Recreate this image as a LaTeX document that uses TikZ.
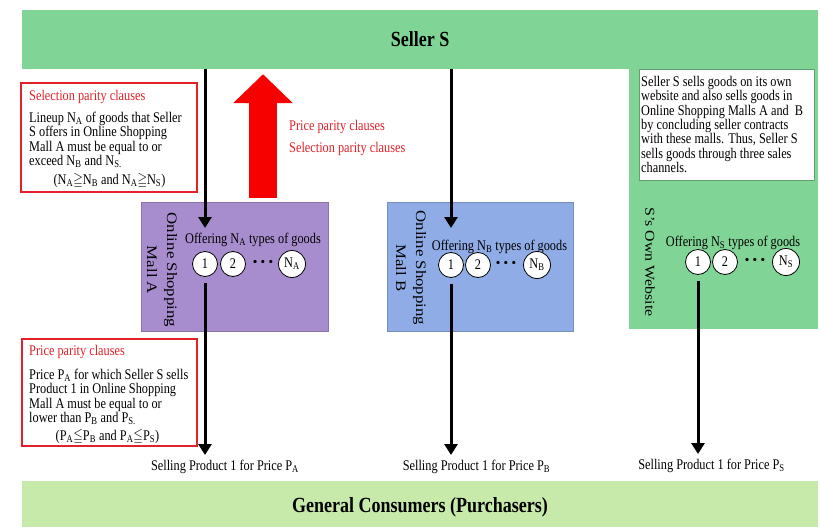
\documentclass[tikz,border=0pt]{standalone}
\usepackage{fontspec}
\setmainfont{Liberation Serif}
\usepackage{amssymb}
\usetikzlibrary{arrows.meta}

\definecolor{sellergreen}{RGB}{128,213,150}
\definecolor{buyergreen}{RGB}{199,233,170}
\definecolor{mallviolet}{RGB}{168,141,206}
\definecolor{mallsky}{RGB}{143,172,230}
\definecolor{clausered}{RGB}{228,32,40}
\definecolor{flagred}{RGB}{246,0,0}

% lettering is set a little taller than it is wide
\newcommand{\tall}[1]{\scalebox{1}[1.2]{#1}}
% rotated lettering: stretched along the line instead
\newcommand{\lng}[1]{\scalebox{1.17}[1]{#1}}
\newcommand{\ix}[1]{\textsubscript{#1}}
\newcommand{\bodysize}{\fontsize{12.3}{14.4}\selectfont}
\newcommand{\headsize}{\fontsize{18}{22}\selectfont}
% the "and so on" dots between the goods
\newcommand{\etcdots}{\scalebox{1.6}{·\kern0.8pt·\kern0.8pt·}}

\tikzset{
  panel/.style={rectangle, inner sep=0pt, fill=#1},
  mall/.style={rectangle, inner sep=0pt, minimum height=129pt, fill=#1, draw=#1!82!black, line width=0.6pt},
  txt/.style={inner sep=0pt, font=\bodysize},
  good/.style={circle, draw=black, line width=0.8pt, fill=white, minimum size=25pt, inner sep=0.5pt, font=\bodysize},
  dots/.style={inner sep=0pt, font=\bodysize\bfseries},
  clausebox/.style={rectangle, draw=clausered, line width=2pt, fill=white, inner sep=0pt},
  flow/.style={line width=3pt, -{Triangle[width=13pt,length=11pt]}},
  push/.style={draw=flagred, line width=28pt, -{Triangle[width=58pt,length=29pt]}},
  vlabel/.style={rotate=-90, inner sep=0pt, align=center},
}

\begin{document}
\begin{tikzpicture}[x=1pt,y=-1pt]
\useasboundingbox (0,0) rectangle (821,527);

% green seller band with the own-website panel hanging from it
\node[panel=sellergreen, minimum width=796pt, minimum height=59pt, font=\headsize] (seller) at (420,39.5) {\tall{\bfseries Seller S}};
\node[panel=sellergreen, minimum width=189pt, minimum height=261pt] (website) at (723.5,198.5) {};

% consumers band
\node[panel=buyergreen, minimum width=796pt, minimum height=46pt] (buyers) at (420,504) {};
\node[txt, font=\headsize] (buyerstext) at (420,507) {\tall{\bfseries General Consumers (Purchasers)}};

% explanatory note in the website panel
\node[rectangle, fill=white, draw=sellergreen!75!black, line width=0.5pt, minimum width=175pt, minimum height=111pt] (note) at (726.5,124.5) {};
\node[txt, align=left, anchor=west] (notetext) at (641,124.5) {%
  \tall{Seller S sells goods on its own}\\
  \tall{website and also sells goods in}\\
  \tall{Online Shopping Malls A and\ \ B}\\
  \tall{by concluding seller contracts}\\
  \tall{with these malls. Thus, Seller S}\\
  \tall{sells goods through three sales}\\
  \tall{channels.}};

% the two malls
\node[mall=mallviolet, minimum width=187pt] (mallA) at (234.5,266.5) {};
\node[mall=mallsky, minimum width=186pt] (mallB) at (480,266.5) {};

% channel names, read top to bottom
\node[vlabel, font=\fontsize{14.4}{20}\selectfont] (labelA) at (162,270) {\lng{Online Shopping}\\\lng{Mall A}};
\node[vlabel, font=\fontsize{14.4}{20}\selectfont] (labelB) at (411,268) {\lng{Online Shopping}\\\lng{Mall B}};
\node[vlabel, font=\fontsize{13.6}{20}\selectfont] (labelS) at (650,262) {\lng{S's Own Website}};

% assortments
\node[txt] (offerA) at (253,240) {\tall{Offering N\ix{A} types of goods}};
\node[good] (a1) at (205,264) {\tall{1}};
\node[good] (a2) at (233,264) {\tall{2}};
\node[dots] (aDots) at (263,264) {\etcdots};
\node[good, minimum size=27pt] (aN) at (292,264) {\tall{N\ix{A}}};

\node[txt] (offerB) at (499.5,247) {\tall{Offering N\ix{B} types of goods}};
\node[good] (b1) at (451,265) {\tall{1}};
\node[good] (b2) at (478,265) {\tall{2}};
\node[dots] (bDots) at (506,265) {\etcdots};
\node[good, minimum size=27pt] (bN) at (537,265) {\tall{N\ix{B}}};

\node[txt] (offerS) at (733,243) {\tall{Offering N\ix{S} types of goods}};
\node[good] (s1) at (698,262) {\tall{1}};
\node[good] (s2) at (725,262) {\tall{2}};
\node[dots] (sDots) at (755,262) {\etcdots};
\node[good, minimum size=27pt] (sN) at (786,262) {\tall{N\ix{S}}};

% sales prices
\node[txt] (sellA) at (225,467) {\tall{Selling Product 1 for Price P\ix{A}}};
\node[txt] (sellB) at (476.5,467) {\tall{Selling Product 1 for Price P\ix{B}}};
\node[txt] (sellS) at (711.5,466) {\tall{Selling Product 1 for Price P\ix{S}}};

% supply into the malls
\coordinate (aIn) at (205,228);
\coordinate (bIn) at (451,228);
\draw[flow] (seller.south -| aIn) -- (aIn);
\draw[flow] (seller.south -| bIn) -- (bIn);

% sales to consumers
\draw[flow, shorten <=6pt, shorten >=5pt] (a1) -- (a1 |- sellA.north);
\draw[flow, shorten <=6pt, shorten >=5pt] (b1) -- (b1 |- sellB.north);
\draw[flow, shorten <=6pt, shorten >=5pt] (s1) -- (s1 |- sellS.north);

% parity clauses imposed by mall A
\coordinate (parTail) at ([xshift=28.5pt,yshift=4pt]mallA.north);
\coordinate (parHead) at (parTail |- seller.south);
\draw[push, shorten >=5pt] (parTail) -- (parHead);
\node[txt, anchor=west, align=left, text=clausered, font=\fontsize{12.3}{22}\selectfont] (parityText) at (289,137.5) {\tall{Price parity clauses}\\\tall{Selection parity clauses}};

% selection parity box
\node[clausebox, minimum width=176pt, minimum height=109pt] (selBox) at (109,137.5) {};
\node[txt, anchor=west, text=clausered] (selTitle) at (29,96.5) {\tall{Selection parity clauses}};
\node[txt, anchor=west, align=left] (selBody) at (29,140) {%
  \tall{Lineup N\ix{A} of goods that Seller}\\
  \tall{S offers in Online Shopping}\\
  \tall{Mall A must be equal to or}\\
  \tall{exceed N\ix{B} and N\ix{S.}}};
\node[txt] (selRule) at (109.5,181) {\tall{(N\ix{A}$\geqq$N\ix{B} and N\ix{A}$\geqq$N\ix{S})}};

% price parity box
\node[clausebox, minimum width=175pt, minimum height=107pt] (priceBox) at (109.5,392.5) {};
\node[txt, anchor=west, text=clausered] (priceTitle) at (29,352) {\tall{Price parity clauses}};
\node[txt, anchor=west, align=left] (priceBody) at (29,397) {%
  \tall{Price P\ix{A} for which Seller S sells}\\
  \tall{Product 1 in Online Shopping}\\
  \tall{Mall A must be equal to or}\\
  \tall{lower than P\ix{B} and P\ix{S.}}};
\node[txt] (priceRule) at (107.5,437) {\tall{(P\ix{A}$\leqq$P\ix{B} and P\ix{A}$\leqq$P\ix{S})}};

\end{tikzpicture}
\end{document}
